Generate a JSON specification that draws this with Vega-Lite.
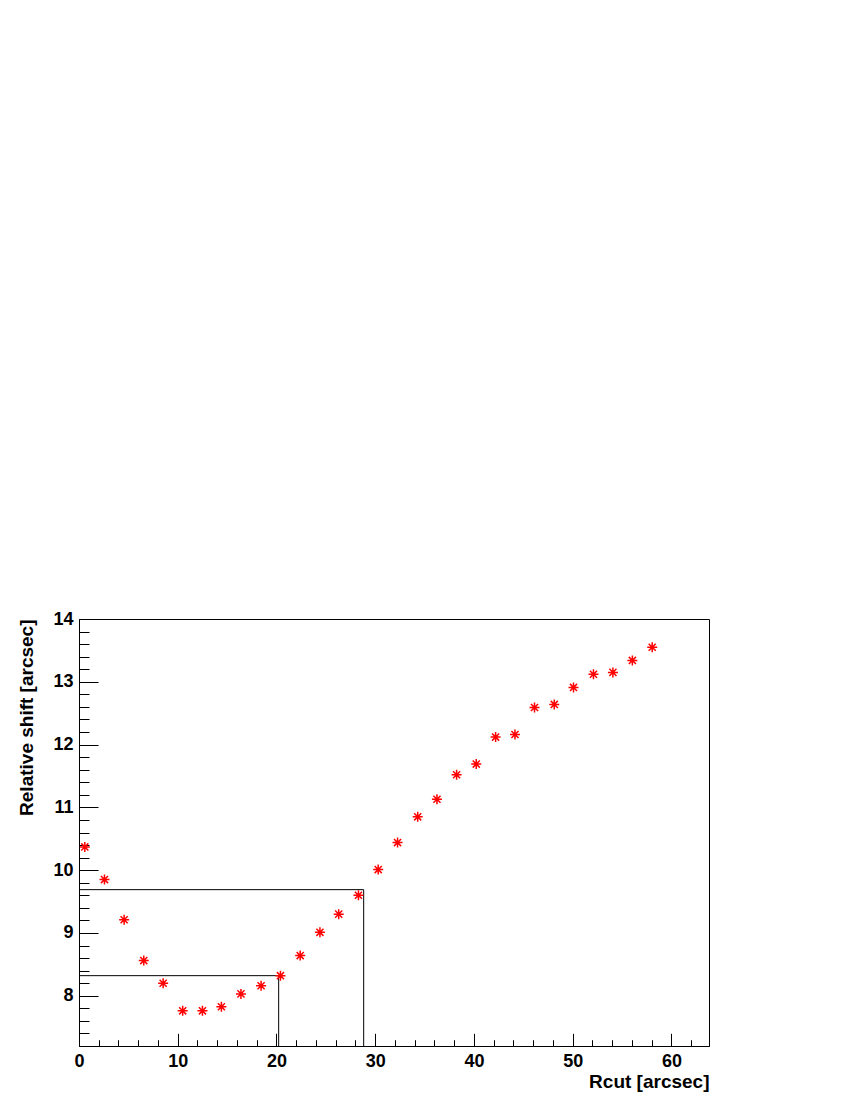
{
  "$schema": "https://vega.github.io/schema/vega-lite/v6.json",
  "width": 630,
  "height": 427,
  "autosize": "none",
  "padding": {"left": 79, "top": 619, "right": 141, "bottom": 54},
  "background": "white",
  "config": {
    "view": {"stroke": "black", "strokeWidth": 1},
    "axis": {
      "grid": false,
      "domainColor": "black",
      "tickColor": "black",
      "labelColor": "black",
      "titleColor": "black",
      "labelFont": "Liberation Sans",
      "titleFont": "Liberation Sans",
      "labelFontWeight": "bold",
      "titleFontWeight": "bold",
      "labelFontSize": 18,
      "titleFontSize": 19
    }
  },
  "datasets": {
    "pts": [
      {"rcut": 0.59, "shift": 10.37},
      {"rcut": 2.58, "shift": 9.85},
      {"rcut": 4.57, "shift": 9.21},
      {"rcut": 6.56, "shift": 8.56},
      {"rcut": 8.52, "shift": 8.2},
      {"rcut": 10.5, "shift": 7.76},
      {"rcut": 12.5, "shift": 7.76},
      {"rcut": 14.42, "shift": 7.825},
      {"rcut": 16.4, "shift": 8.03},
      {"rcut": 18.44, "shift": 8.16},
      {"rcut": 20.4, "shift": 8.32},
      {"rcut": 22.4, "shift": 8.64},
      {"rcut": 24.4, "shift": 9.01},
      {"rcut": 26.3, "shift": 9.3},
      {"rcut": 28.3, "shift": 9.6},
      {"rcut": 30.3, "shift": 10.01},
      {"rcut": 32.26, "shift": 10.44},
      {"rcut": 34.3, "shift": 10.85},
      {"rcut": 36.25, "shift": 11.13},
      {"rcut": 38.24, "shift": 11.52},
      {"rcut": 40.23, "shift": 11.69},
      {"rcut": 42.19, "shift": 12.12},
      {"rcut": 44.15, "shift": 12.16},
      {"rcut": 46.13, "shift": 12.59},
      {"rcut": 48.13, "shift": 12.64},
      {"rcut": 50.08, "shift": 12.91},
      {"rcut": 52.1, "shift": 13.12},
      {"rcut": 54.07, "shift": 13.15},
      {"rcut": 56.04, "shift": 13.34},
      {"rcut": 58.05, "shift": 13.55}
    ],
    "cuts": [
      {"x0": 0, "x1": 28.83, "y0": 9.69, "y1": 9.69},
      {"x0": 28.83, "x1": 28.83, "y0": 7.2, "y1": 9.69},
      {"x0": 0, "x1": 20.22, "y0": 8.32, "y1": 8.32},
      {"x0": 20.22, "x1": 20.22, "y0": 7.2, "y1": 8.32}
    ]
  },
  "layer": [
    {
      "data": {"name": "cuts"},
      "mark": {"type": "rule", "color": "black", "strokeWidth": 1},
      "encoding": {
        "x": {
          "field": "x0", "type": "quantitative",
          "scale": {"domain": [0, 63.8], "nice": false, "zero": false},
          "axis": {
            "title": "Rcut [arcsec]",
            "titleAnchor": "end",
            "titleY": 41,
            "titleBaseline": "alphabetic",
            "tickCount": 200,
            "values": [0,2,4,6,8,10,12,14,16,18,20,22,24,26,28,30,32,34,36,38,40,42,44,46,48,50,52,54,56,58,60,62],
            "tickSize": {"expr": "datum.value % 10 === 0 ? -12.7 : -6.3"},
            "labelExpr": "datum.value % 10 === 0 ? format(datum.value, 'd') : ''",
            "labelPadding": 19.5,
            "labelFlush": false,
            "labelOverlap": false
          }
        },
        "x2": {"field": "x1"},
        "y": {
          "field": "y0", "type": "quantitative",
          "scale": {"domain": [7.2, 14], "nice": false, "zero": false},
          "axis": {
            "title": "Relative shift [arcsec]",
            "titleAnchor": "end",
            "titleX": -43,
            "titleBaseline": "bottom",
            "tickCount": 200,
            "values": [7.4,7.6,7.8,8,8.2,8.4,8.6,8.8,9,9.2,9.4,9.6,9.8,10,10.2,10.4,10.6,10.8,11,11.2,11.4,11.6,11.8,12,12.2,12.4,12.6,12.8,13,13.2,13.4,13.6,13.8,14],
            "tickSize": {"expr": "abs(datum.value - round(datum.value)) < 0.01 ? -19 : -10"},
            "labelExpr": "abs(datum.value - round(datum.value)) < 0.01 ? format(datum.value, 'd') : ''",
            "labelPadding": 25,
            "labelFlush": false,
            "labelOverlap": false
          }
        },
        "y2": {"field": "y1"}
      }
    },
    {
      "data": {"name": "pts"},
      "mark": {
        "type": "point",
        "shape": "M-1,0L1,0M0,-1L0,1M-0.71,-0.71L0.71,0.71M-0.71,0.71L0.71,-0.71",
        "filled": false,
        "color": "#ff0000",
        "strokeWidth": 1.5,
        "size": 100,
        "opacity": 1
      },
      "encoding": {
        "x": {"field": "rcut", "type": "quantitative"},
        "y": {"field": "shift", "type": "quantitative"}
      }
    }
  ]
}
